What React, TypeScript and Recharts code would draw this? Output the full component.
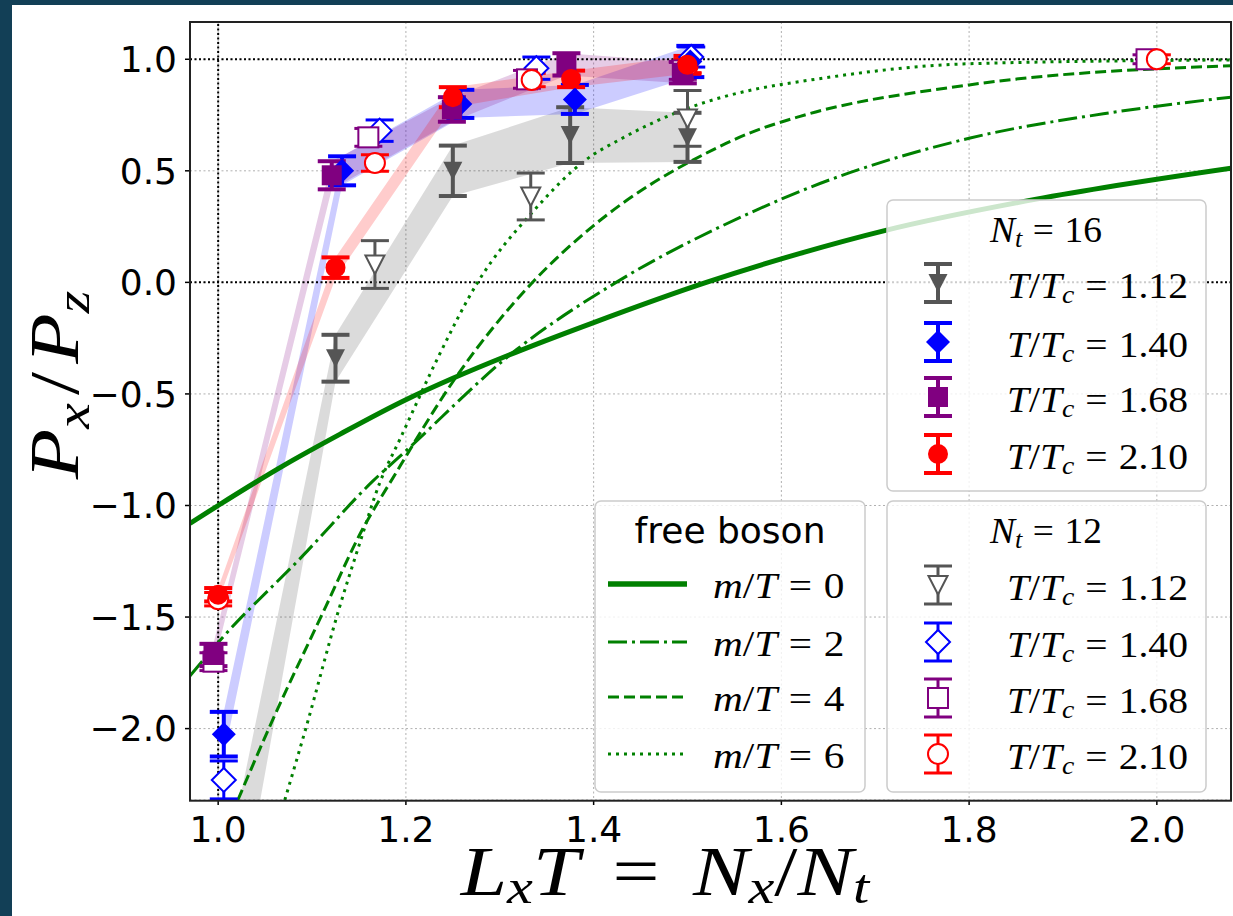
import React from "react";
import {
  ComposedChart,
  XAxis,
  YAxis,
  CartesianGrid,
  Line,
  Area,
  Scatter,
  ErrorBar,
  ReferenceLine,
} from "recharts";

const W = 1233;
const H = 916;
const FRAME = "#123f56";

const GREY = "#555555";
const BLUE = "#0000ff";
const PURPLE = "#800080";
const RED = "#ff0000";
const GREEN = "#008000";

const X_DOMAIN = [0.97, 2.079];
const Y_DOMAIN = [-2.32, 1.167];
const X_TICKS = [1.0, 1.2, 1.4, 1.6, 1.8, 2.0];
const Y_TICKS = [-2.0, -1.5, -1.0, -0.5, 0.0, 0.5, 1.0];

// N_t = 16 (filled markers + bands)
const N16_T112_X = [1.0, 1.125, 1.25, 1.375, 1.5];
const N16_T112_Y = [-3.08, -0.34, 0.5, 0.66, 0.65];
const N16_T112_E = [0.29, 0.105, 0.113, 0.125, 0.11];

const N16_T140_X = [1.006, 1.132, 1.258, 1.38, 1.503];
const N16_T140_Y = [-2.025, 0.5, 0.8, 0.82, 0.99];
const N16_T140_E = [0.1, 0.065, 0.063, 0.065, 0.07];

const N16_T168_X = [0.995, 1.121, 1.249, 1.371, 1.495];
const N16_T168_Y = [-1.67, 0.48, 0.775, 0.977, 0.94];
const N16_T168_E = [0.05, 0.063, 0.055, 0.05, 0.048];

const N16_T210_X = [1.0, 1.125, 1.25, 1.376, 1.5];
const N16_T210_Y = [-1.4, 0.066, 0.83, 0.912, 0.975];
const N16_T210_E = [0.03, 0.046, 0.045, 0.037, 0.04];

// N_t = 12 (open markers)
const N12_T112_X = [1.167, 1.333, 1.5];
const N12_T112_Y = [0.08, 0.385, 0.735];
const N12_T112_E = [0.107, 0.105, 0.125];

const N12_T140_X = [1.006, 1.172, 1.339, 1.504];
const N12_T140_Y = [-2.23, 0.68, 0.96, 1.01];
const N12_T140_E = [0.085, 0.048, 0.05, 0.045];

const N12_T168_X = [0.995, 1.16, 1.329, 1.495, 1.989];
const N12_T168_Y = [-1.7, 0.65, 0.91, 0.95, 1.0];
const N12_T168_E = [0.04, 0.04, 0.04, 0.04, 0.02];

const N12_T210_X = [1.0, 1.167, 1.334, 1.5, 2.0];
const N12_T210_Y = [-1.42, 0.535, 0.907, 0.97, 1.0];
const N12_T210_E = [0.03, 0.037, 0.03, 0.03, 0.02];

// free boson curves
const FB0_X = [0.97, 1.0, 1.07, 1.13, 1.2, 1.25, 1.325, 1.4, 1.52, 1.62, 1.71, 1.87, 2.079];
const FB0_Y = [-1.08, -1.0, -0.82, -0.68, -0.526, -0.43, -0.3, -0.18, 0.0, 0.13, 0.232, 0.372, 0.512];

const FB2_X = [0.97, 1.0, 1.09, 1.165, 1.2, 1.318, 1.424, 1.566, 1.63, 1.8, 1.95, 2.079];
const FB2_Y = [-1.764, -1.614, -1.226, -0.89, -0.755, -0.301, 0.0, 0.31, 0.425, 0.646, 0.76, 0.83];

const FB4_X = [1.021, 1.055, 1.115, 1.15, 1.19, 1.254, 1.336, 1.399, 1.527, 1.566, 1.619, 1.8, 2.079];
const FB4_Y = [-2.32, -1.99, -1.45, -1.137, -0.85, -0.421, 0.005, 0.251, 0.594, 0.669, 0.743, 0.885, 0.971];

const FB6_X = [1.071, 1.094, 1.129, 1.15, 1.172, 1.194, 1.235, 1.275, 1.336, 1.392, 1.43, 1.5, 1.577, 1.62, 1.8, 2.079];
const FB6_Y = [-2.32, -1.99, -1.46, -1.18, -0.9, -0.7, -0.33, -0.01, 0.32, 0.55, 0.645, 0.78, 0.87, 0.9, 0.98, 0.997];

const pts = (xs: number[], ys: number[], es: number[]) =>
  xs
    .map((x, i) => ({ x, y: ys[i], err: es[i] }))
    .filter((p) => p.y > Y_DOMAIN[0] && p.y < Y_DOMAIN[1]);
const band = (xs: number[], ys: number[], es: number[]) =>
  xs.map((x, i) => ({ x, band: [ys[i] - es[i], ys[i] + es[i]] }));
const curve = (xs: number[], ys: number[]) => xs.map((x, i) => ({ x, y: ys[i] }));

type Kind = "tri" | "dia" | "sq" | "circ";

function drawMarker(kind: Kind, cx: number, cy: number, color: string, open: boolean) {
  const fill = open ? "#fff" : color;
  const sw = open ? 2 : 0;
  if (kind === "tri")
    return (
      <polygon
        points={`${cx - 9.5},${cy - 9} ${cx + 9.5},${cy - 9} ${cx},${cy + 9.5}`}
        fill={fill}
        stroke={color}
        strokeWidth={sw}
      />
    );
  if (kind === "dia")
    return (
      <polygon
        points={`${cx},${cy - 12} ${cx + 12},${cy} ${cx},${cy + 12} ${cx - 12},${cy}`}
        fill={fill}
        stroke={color}
        strokeWidth={sw}
      />
    );
  if (kind === "sq")
    return <rect x={cx - 10} y={cy - 10} width={20} height={20} fill={fill} stroke={color} strokeWidth={sw} />;
  return <circle cx={cx} cy={cy} r={10} fill={fill} stroke={color} strokeWidth={sw} />;
}

const shape = (kind: Kind, color: string, open: boolean) => (p: any) =>
  p.cx == null ? <g /> : drawMarker(kind, p.cx, p.cy, color, open);

const SERIES = [
  { data: pts(N12_T112_X, N12_T112_Y, N12_T112_E), kind: "tri" as Kind, color: GREY, open: true },
  { data: pts(N12_T140_X, N12_T140_Y, N12_T140_E), kind: "dia" as Kind, color: BLUE, open: true },
  { data: pts(N12_T168_X, N12_T168_Y, N12_T168_E), kind: "sq" as Kind, color: PURPLE, open: true },
  { data: pts(N12_T210_X, N12_T210_Y, N12_T210_E), kind: "circ" as Kind, color: RED, open: true },
  { data: pts(N16_T112_X, N16_T112_Y, N16_T112_E), kind: "tri" as Kind, color: GREY, open: false },
  { data: pts(N16_T140_X, N16_T140_Y, N16_T140_E), kind: "dia" as Kind, color: BLUE, open: false },
  { data: pts(N16_T168_X, N16_T168_Y, N16_T168_E), kind: "sq" as Kind, color: PURPLE, open: false },
  { data: pts(N16_T210_X, N16_T210_Y, N16_T210_E), kind: "circ" as Kind, color: RED, open: false },
];

const BANDS = [
  { data: band(N16_T112_X, N16_T112_Y, N16_T112_E), fill: "rgba(0,0,0,0.14)" },
  { data: band(N16_T140_X, N16_T140_Y, N16_T140_E), fill: "rgba(0,0,255,0.2)" },
  { data: band(N16_T168_X, N16_T168_Y, N16_T168_E), fill: "rgba(128,0,128,0.2)" },
  { data: band(N16_T210_X, N16_T210_Y, N16_T210_E), fill: "rgba(255,0,0,0.2)" },
];

const CURVES = [
  { data: curve(FB0_X, FB0_Y), width: 5, dash: undefined },
  { data: curve(FB2_X, FB2_Y), width: 3, dash: "19 5 3 5" },
  { data: curve(FB4_X, FB4_Y), width: 3, dash: "11 5" },
  { data: curve(FB6_X, FB6_Y), width: 3, dash: "3 5" },
];

const tickStyle = { fill: "#000", fontSize: 36, fontFamily: "'DejaVu Sans', sans-serif" };
const fmt = (v: number) => (v < 0 ? "\u2212" : "") + Math.abs(v).toFixed(1);

// math-ish text: italic letters, upright digits/operators, small subscripts
type Seg = { t: string; it?: boolean; sub?: boolean; dx?: number };

function MathText({
  x, y, size, segs, anchor = "start", sx = 1, rot = 0, subShift = 0.15,
}: {
  x: number; y: number; size: number; segs: Seg[]; anchor?: string; sx?: number; rot?: number; subShift?: number;
}) {
  let shifted = false;
  const shift = size * subShift;
  return (
    <text
      x={0}
      y={0}
      fontFamily="'Liberation Serif', serif"
      fontSize={size}
      textAnchor={anchor}
      transform={`translate(${x},${y}) rotate(${rot}) scale(${sx},1)`}
      fill="#000"
    >
      {segs.map((s, i) => {
        let dy = 0;
        if (s.sub && !shifted) { dy = shift; shifted = true; }
        else if (!s.sub && shifted) { dy = -shift; shifted = false; }
        return (
          <tspan
            key={i}
            dy={dy}
            dx={(s.dx || 0) * size}
            fontStyle={s.it ? "italic" : "normal"}
            fontSize={s.sub ? size * 0.7 : size}
          >
            {s.t}
          </tspan>
        );
      })}
    </text>
  );
}

const eq = (v: string): Seg[] => [{ t: "=", dx: 0.28 }, { t: v, dx: 0.28 }];
const tLabel = (v: string): Seg[] => [
  { t: "T", it: true }, { t: "/" }, { t: "T", it: true }, { t: "c", it: true, sub: true }, ...eq(v),
];
const mLabel = (v: string): Seg[] => [{ t: "m", it: true }, { t: "/" }, { t: "T", it: true }, ...eq(v)];

function ErrGlyph({ x, y, kind, color, open }: { x: number; y: number; kind: Kind; color: string; open: boolean }) {
  const sw = open ? 3 : 4;
  return (
    <g>
      <line x1={x} y1={y - 19} x2={x} y2={y + 19} stroke={color} strokeWidth={sw} />
      <line x1={x - 14} y1={y - 19} x2={x + 14} y2={y - 19} stroke={color} strokeWidth={sw} />
      <line x1={x - 14} y1={y + 19} x2={x + 14} y2={y + 19} stroke={color} strokeWidth={sw} />
      {drawMarker(kind, x, y, color, open)}
    </g>
  );
}

const LEG_T = ["1.12", "1.40", "1.68", "2.10"];
const LEG_KINDS: Kind[] = ["tri", "dia", "sq", "circ"];
const LEG_COLORS = [GREY, BLUE, PURPLE, RED];

function TempLegend({ top, title, open, rows }: { top: number; title: string; open: boolean; rows: number[] }) {
  return (
    <g>
      <rect x={887} y={top} width={319} height={291} rx={6} fill="rgba(255,255,255,0.8)" stroke="#cccccc" strokeWidth={1.5} />
      <MathText
        x={1046}
        y={top + 42}
        size={35}
        anchor="middle"
        sx={1.07}
        segs={[{ t: "N", it: true }, { t: "t", it: true, sub: true }, ...eq(title)]}
      />
      {rows.map((ry, i) => (
        <g key={i}>
          <ErrGlyph x={938} y={ry} kind={LEG_KINDS[i]} color={LEG_COLORS[i]} open={open} />
          <MathText x={1007} y={ry + 15} size={35} sx={1.13} segs={tLabel(LEG_T[i])} />
        </g>
      ))}
    </g>
  );
}

export default function App() {
  return (
    <div style={{ position: "absolute", left: 0, top: 0, width: W, height: H, background: FRAME, overflow: "hidden" }}>
      <div style={{ position: "absolute", left: 12, top: 5, width: W - 12, height: H - 5, background: "#fff" }} />
      <div style={{ position: "absolute", left: 0, top: 0 }}>
        <ComposedChart width={W} height={H} margin={{ top: 22, right: 2, bottom: 55, left: 0 }}>
          <CartesianGrid stroke="#b0b0b0" strokeDasharray="2 2.5" strokeWidth={1} />
          <XAxis
            type="number"
            dataKey="x"
            domain={X_DOMAIN}
            allowDataOverflow
            ticks={X_TICKS}
            interval={0}
            tickFormatter={fmt}
            tick={tickStyle}
            tickSize={5}
            tickMargin={11}
            tickLine={{ stroke: "#000", strokeWidth: 1.5 }}
            axisLine={false}
            height={61}
          />
          <YAxis
            type="number"
            dataKey="y"
            domain={Y_DOMAIN}
            allowDataOverflow
            ticks={Y_TICKS}
            interval={0}
            tickFormatter={fmt}
            tick={tickStyle}
            tickSize={5}
            tickMargin={8}
            tickLine={{ stroke: "#000", strokeWidth: 1.5 }}
            axisLine={false}
            width={190}
          />
          <ReferenceLine y={1} stroke="#000" strokeWidth={2} strokeDasharray="2 2.5" />
          <ReferenceLine y={0} stroke="#000" strokeWidth={2} strokeDasharray="2 2.5" />
          <ReferenceLine x={1} stroke="#000" strokeWidth={2} strokeDasharray="2 2.5" />
          {BANDS.map((b, i) => (
            <Area
              key={"b" + i}
              data={b.data}
              dataKey="band"
              type="linear"
              stroke="none"
              fill={b.fill}
              fillOpacity={1}
              dot={false}
              activeDot={false}
              isAnimationActive={false}
            />
          ))}
          {CURVES.map((c, i) => (
            <Line
              key={"c" + i}
              data={c.data}
              dataKey="y"
              type="monotone"
              stroke={GREEN}
              strokeWidth={c.width}
              strokeDasharray={c.dash}
              dot={false}
              activeDot={false}
              isAnimationActive={false}
            />
          ))}
          {SERIES.map((s, i) => (
            <Scatter key={"s" + i} data={s.data} shape={shape(s.kind, s.color, s.open)} isAnimationActive={false}>
              <ErrorBar
                dataKey="err"
                direction="y"
                width={14}
                stroke={s.color}
                strokeWidth={s.open ? 3 : 4}
                isAnimationActive={false}
              />
            </Scatter>
          ))}
        </ComposedChart>
      </div>
      <svg style={{ position: "absolute", left: 0, top: 0 }} width={W} height={H}>
        <rect x={190} y={22} width={1041} height={778.7} fill="none" stroke="#222" strokeWidth={2} />
        {/* free boson legend */}
        <rect x={595} y={501} width={270} height={291} rx={6} fill="rgba(255,255,255,0.8)" stroke="#cccccc" strokeWidth={1.5} />
        <text x={730} y={543} textAnchor="middle" fontFamily="'DejaVu Sans', sans-serif" fontSize={36} fill="#000">
          free boson
        </text>
        {[584, 642, 697, 754].map((ly, i) => (
          <g key={i}>
            <line
              x1={608}
              y1={ly}
              x2={687}
              y2={ly}
              stroke={GREEN}
              strokeWidth={CURVES[i].width + (i === 0 ? 0.7 : 0)}
              strokeDasharray={CURVES[i].dash}
            />
            <MathText x={713} y={ly + 14} size={35} sx={1.18} segs={mLabel(["0", "2", "4", "6"][i])} />
          </g>
        ))}
        <TempLegend top={200} title="16" open={false} rows={[283, 342, 397, 454]} />
        <TempLegend top={501} title="12" open={true} rows={[585, 642, 698, 754]} />
        {/* axis labels */}
        <MathText
          x={78}
          y={385}
          size={70}
          anchor="middle"
          sx={1.18}
          rot={-90}
          segs={[
            { t: "P", it: true }, { t: "x", it: true, sub: true }, { t: "/", dx: 0.1 },
            { t: "P", it: true, dx: 0.1 }, { t: "z", it: true, sub: true },
          ]}
        />
        <MathText
          x={665}
          y={895}
          size={70}
          anchor="middle"
          sx={1.19}
          subShift={0.12}
          segs={[
            { t: "L", it: true }, { t: "x", it: true, sub: true }, { t: "T", it: true }, { t: "=", dx: 0.4 },
            { t: "N", it: true, dx: 0.4 }, { t: "x", it: true, sub: true }, { t: "/" }, { t: "N", it: true },
            { t: "t", it: true, sub: true },
          ]}
        />
      </svg>
    </div>
  );
}
